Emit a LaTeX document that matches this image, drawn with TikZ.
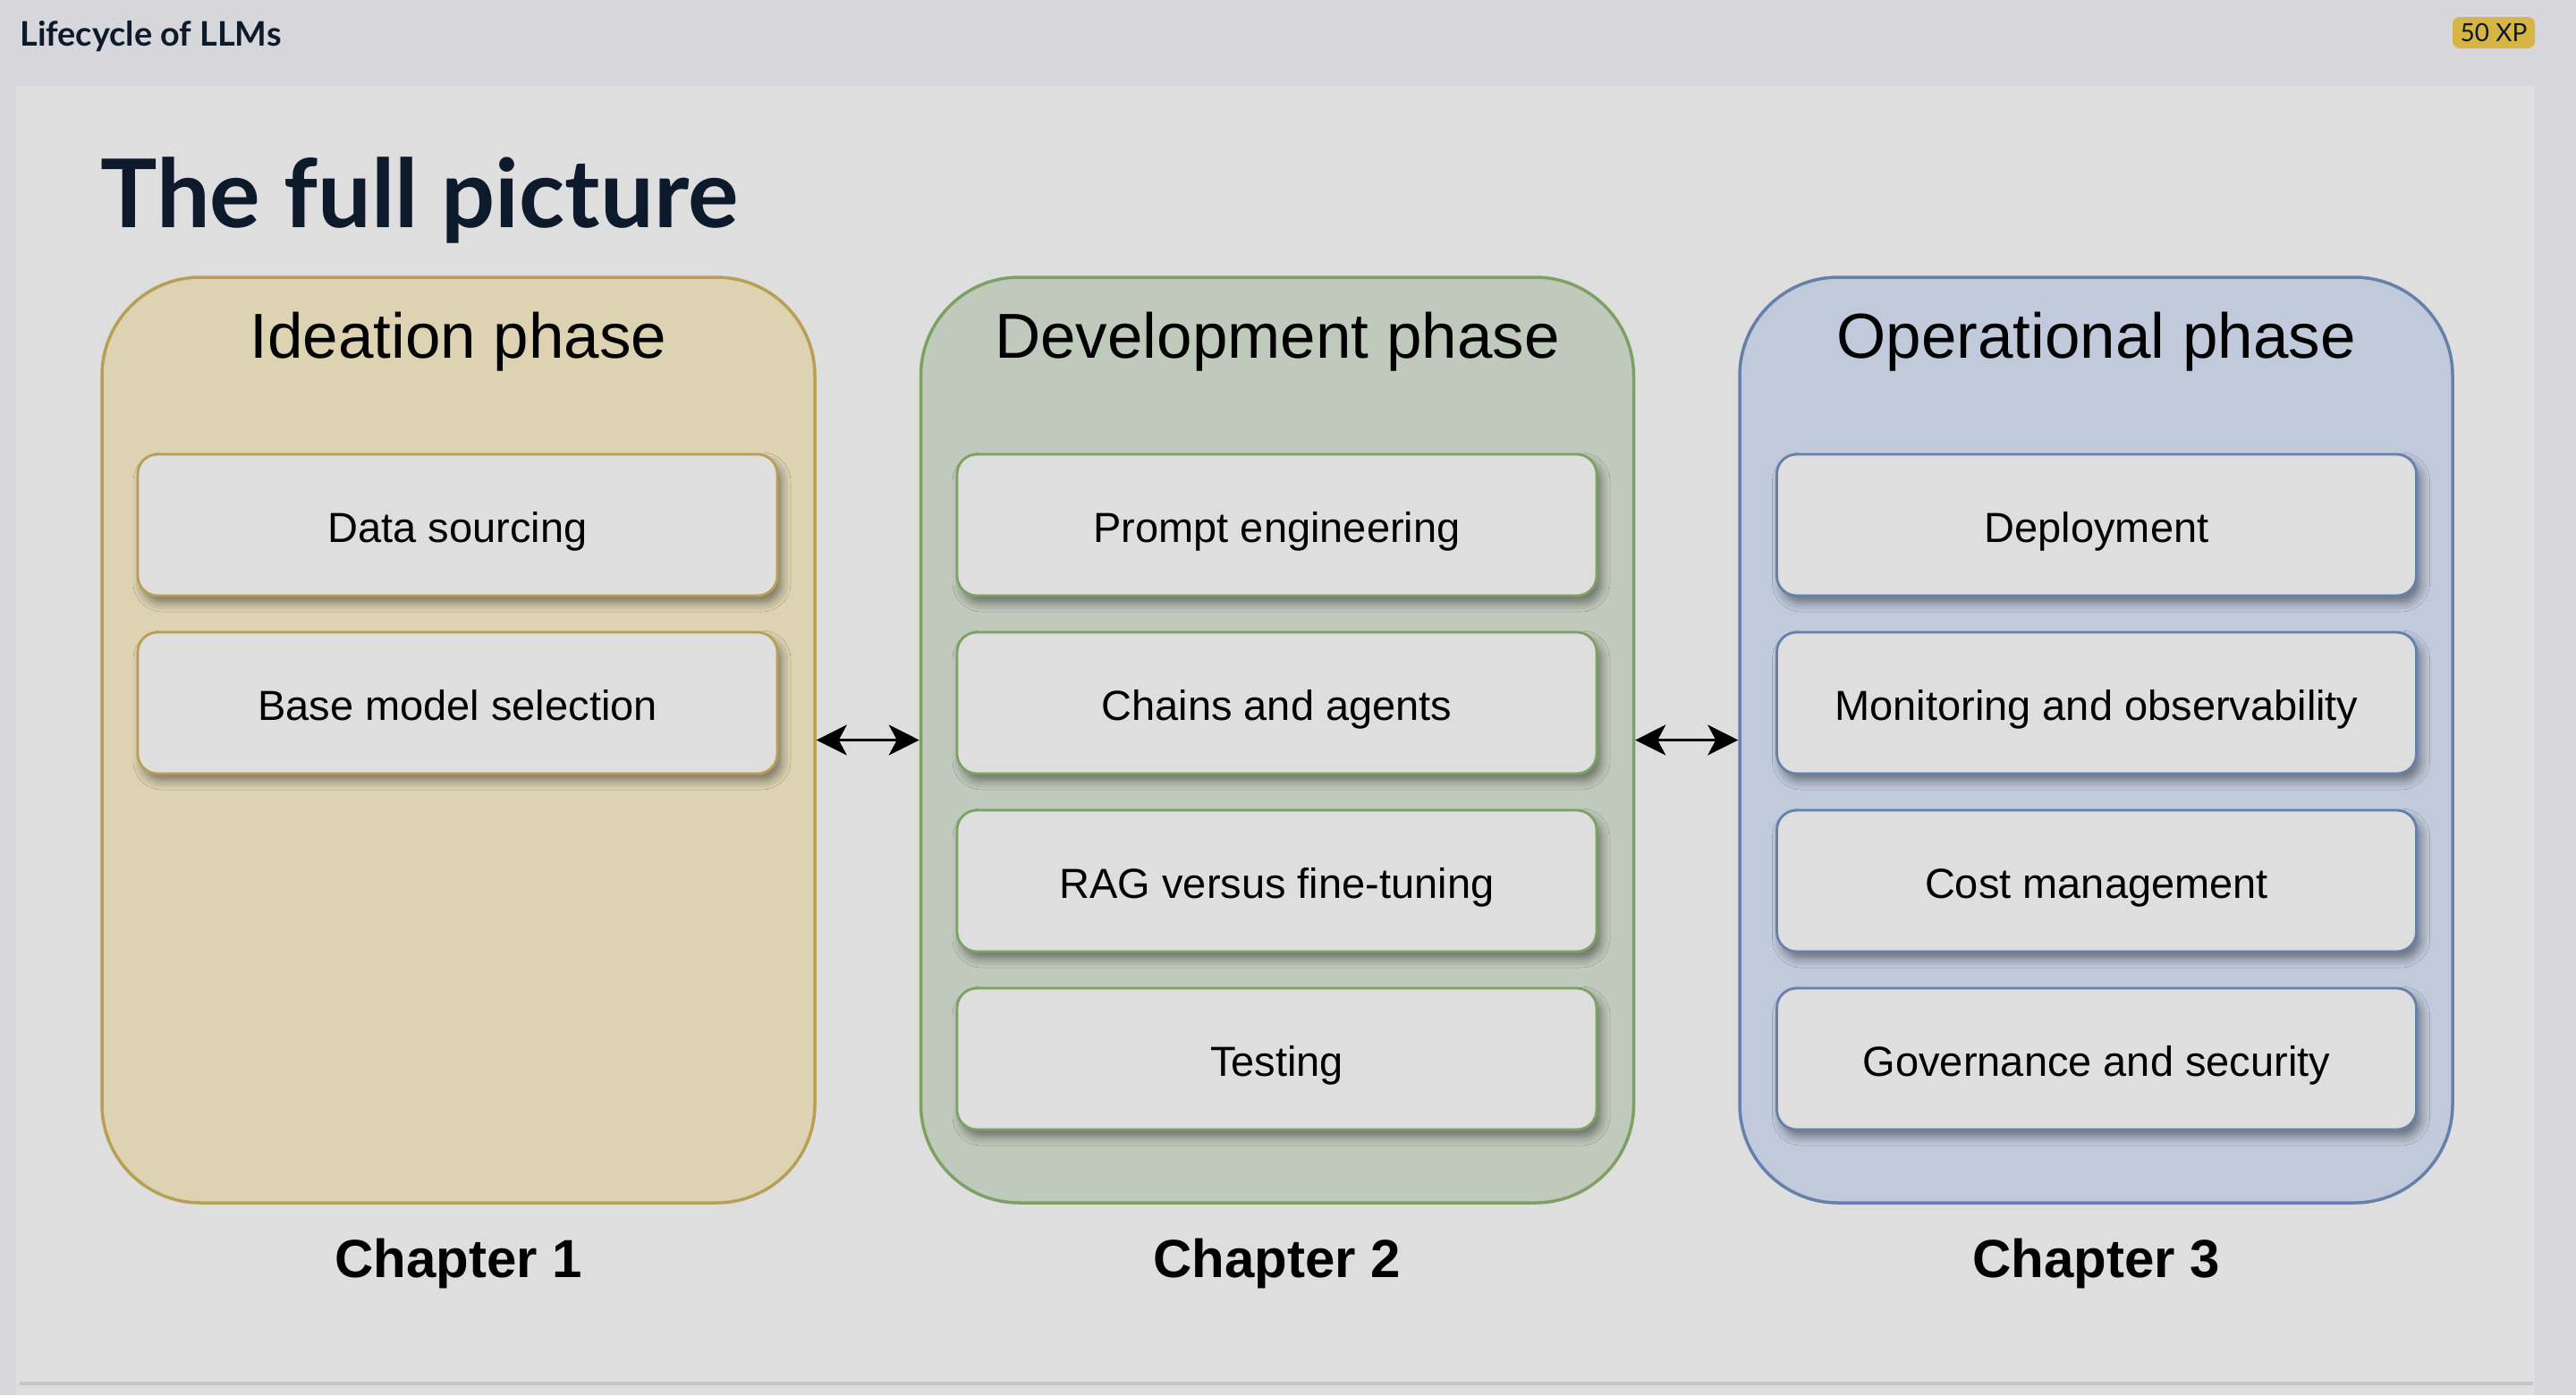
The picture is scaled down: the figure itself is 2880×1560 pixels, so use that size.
\documentclass[tikz,border=0pt]{standalone}
\usepackage{fontspec}
\setmainfont{Liberation Sans}
\newfontfamily\uifont{Lato}
\usetikzlibrary{arrows.meta,shadows.blur}
\definecolor{outerbg}{HTML}{D7D6DB}
\definecolor{panelbg}{HTML}{DEDEDE}
\definecolor{ideafill}{HTML}{DDD3B3}
\definecolor{ideadraw}{HTML}{B89F56}
\definecolor{devfill}{HTML}{BFCABD}
\definecolor{devdraw}{HTML}{7DA063}
\definecolor{opsfill}{HTML}{C1CADB}
\definecolor{opsdraw}{HTML}{6680AC}
\definecolor{navy}{HTML}{0C1A2B}
\definecolor{badge}{HTML}{D6B542}
\definecolor{rulegray}{HTML}{C6C5C2}
\tikzset{
  phasebox/.style={draw=#1, line width=1.75pt, rounded corners=55pt,
    minimum width=398.5pt, minimum height=517.5pt, inner sep=0pt},
  itembox/.style={draw=#1, fill=panelbg, line width=1.4pt, rounded corners=11pt,
    minimum width=357.5pt, minimum height=79pt, inner sep=0pt,
    text height=19.3pt, text depth=0pt,
    font=\fontsize{23.5pt}{26pt}\selectfont,
    blur shadow={shadow xshift=2.5pt, shadow yshift=-4pt, shadow blur radius=5pt, shadow opacity=45}},
  phasetitle/.style={anchor=base, font=\fontsize{35.5pt}{40pt}\selectfont},
  chapter/.style={anchor=base, font=\fontsize{30pt}{34pt}\selectfont\bfseries},
  biarrow/.style={{Stealth[length=17pt,width=17pt,inset=4.5pt]}-{Stealth[length=17pt,width=17pt,inset=4.5pt]}, line width=1.5pt, black}
}
\begin{document}
\begin{tikzpicture}[x=0.5pt,y=-0.5pt]
\useasboundingbox (0,0) rectangle (2880,1560);
\fill[outerbg] (0,0) rectangle (2880,1560);
\fill[panelbg] (18,96) rectangle (2834,1560);
\draw[rulegray, line width=2pt] (22,1547) -- (2832,1547);
% header
\node[anchor=base west, inner sep=0pt, text=navy, font=\uifont\fontsize{18.9pt}{21pt}\selectfont\bfseries] (hdr) at (22,51) {Lifecycle of LLMs};
\node[fill=badge, rounded corners=4pt, minimum width=46pt, minimum height=17.5pt, inner sep=0pt, text=navy, font=\uifont\fontsize{14pt}{15pt}\selectfont] (xp) at (2788,36.5) {50 XP};
% title
\node[anchor=base west, inner sep=0pt, text=navy, font=\uifont\fontsize{53pt}{58pt}\selectfont\bfseries] (ttl) at (112,254) {The full picture};
% phases
\node[phasebox=ideadraw, fill=ideafill] (p1) at (512.5,827.5) {};
\node[phasebox=devdraw, fill=devfill] (p2) at (1428,827.5) {};
\node[phasebox=opsdraw, fill=opsfill] (p3) at (2343.5,827.5) {};
\node[phasetitle] (t1) at (512.5,400) {Ideation phase};
\node[phasetitle] (t2) at (1428,400) {Development phase};
\node[phasetitle] (t3) at (2343.5,400) {Operational phase};
% items
\node[itembox=ideadraw] (a1) at (511.5,587) {Data sourcing};
\node[itembox=ideadraw] (a2) at (511.5,786) {Base model selection};
\node[itembox=devdraw] (b1) at (1427.5,587) {Prompt engineering};
\node[itembox=devdraw] (b2) at (1427.5,786) {Chains and agents};
\node[itembox=devdraw] (b3) at (1427.5,985) {RAG versus fine-tuning};
\node[itembox=devdraw] (b4) at (1427.5,1184) {Testing};
\node[itembox=opsdraw] (c1) at (2344,587) {Deployment};
\node[itembox=opsdraw] (c2) at (2344,786) {Monitoring and observability};
\node[itembox=opsdraw] (c3) at (2344,985) {Cost management};
\node[itembox=opsdraw] (c4) at (2344,1184) {Governance and security};
% chapters
\node[chapter] (ch1) at (512.5,1428) {Chapter 1};
\node[chapter] (ch2) at (1428,1428) {Chapter 2};
\node[chapter] (ch3) at (2343.5,1428) {Chapter 3};
% arrows
\draw[biarrow] (p1.east) -- (p2.west);
\draw[biarrow] (p2.east) -- (p3.west);
\end{tikzpicture}
\end{document}
